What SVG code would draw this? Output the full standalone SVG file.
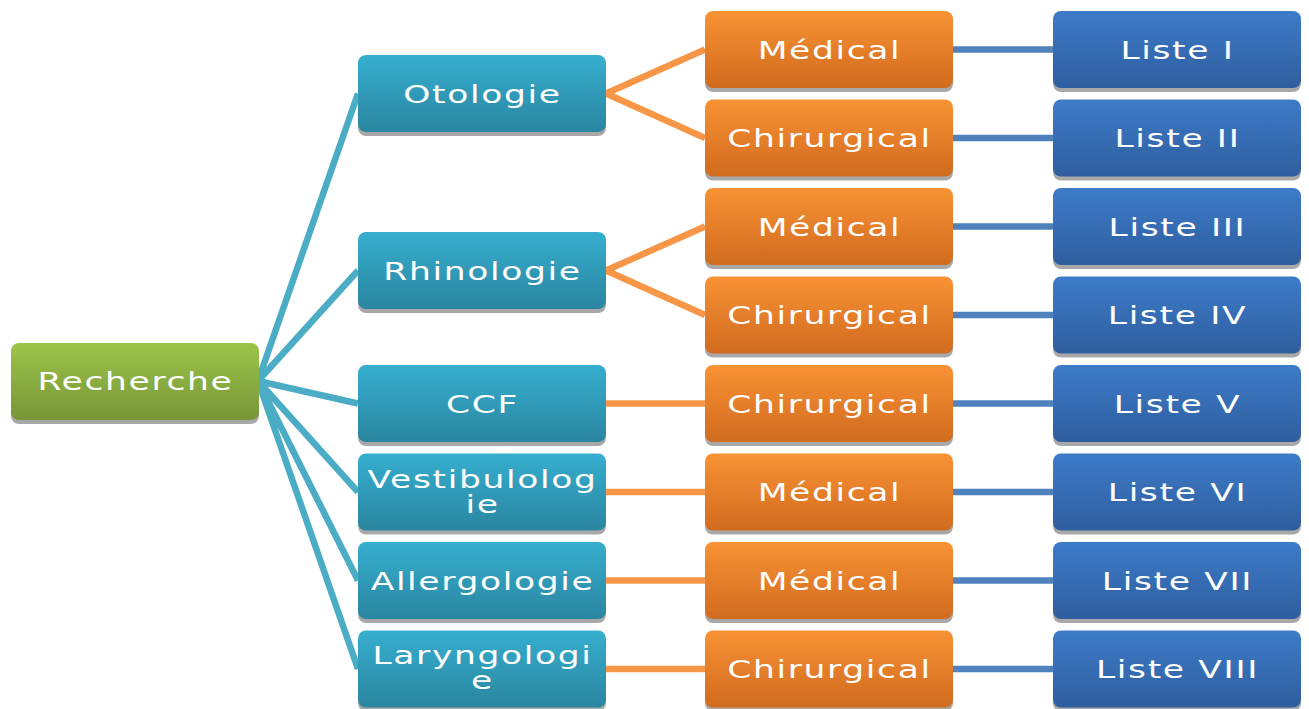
<svg xmlns="http://www.w3.org/2000/svg" width="1309" height="709" viewBox="0 0 1309 709">
<defs>
<linearGradient id="gGreen" x1="0" y1="0" x2="0" y2="1"><stop offset="0" stop-color="#9CC44A"/><stop offset="1" stop-color="#779637"/></linearGradient>
<linearGradient id="gTeal" x1="0" y1="0" x2="0" y2="1"><stop offset="0" stop-color="#36AECF"/><stop offset="1" stop-color="#2A86A0"/></linearGradient>
<linearGradient id="gOrange" x1="0" y1="0" x2="0" y2="1"><stop offset="0" stop-color="#F89234"/><stop offset="1" stop-color="#D16B1F"/></linearGradient>
<linearGradient id="gBlue" x1="0" y1="0" x2="0" y2="1"><stop offset="0" stop-color="#3D7BC9"/><stop offset="1" stop-color="#2F5E9E"/></linearGradient>
<style>
.sh{fill:#A8A8A8}
.t{font-family:"DejaVu Sans","Liberation Sans",sans-serif;font-size:25px;letter-spacing:1.2px;fill:#FFFFFF;text-anchor:middle}
.c1{stroke:#4BACC6;stroke-width:6.5;fill:none}
.c2{stroke:#F79646;stroke-width:6.5;fill:none}
.c3{stroke:#4F81BD;stroke-width:6.5;fill:none}
</style>
</defs>
<rect width="1309" height="709" fill="#FFFFFF"/>
<g id="connectors">
<path class="c1" d="M258,381 L358,93.5 M258,381 L358,270.5 M258,381 L358,403.5 M258,381 L358,492 M258,381 L358,580.5 M258,381 L358,669"/>
<path class="c2" d="M606,93.5 L705,49.5 M606,93.5 L705,138 M606,270.5 L705,226.5 M606,270.5 L705,315 M606,403.5 L705,403.5 M606,492 L705,492 M606,580.5 L705,580.5 M606,669 L705,669"/>
<path class="c3" d="M953,49.5 H1053 M953,138 H1053 M953,226.5 H1053 M953,315 H1053 M953,403.5 H1053 M953,492 H1053 M953,580.5 H1053 M953,669 H1053"/>
</g>
<g id="recherche"><rect class="sh" x="11" y="347" width="248" height="77" rx="8"/><rect x="11" y="343" width="248" height="77" rx="8" fill="url(#gGreen)"/><text class="t" transform="translate(135.5,389.5) scale(1.38,1)">Recherche</text></g>
<g id="otologie"><rect class="sh" x="358" y="59" width="248" height="77" rx="8"/><rect x="358" y="55" width="248" height="77" rx="8" fill="url(#gTeal)"/><text class="t" transform="translate(482.5,102.5) scale(1.38,1)">Otologie</text></g>
<g id="rhinologie"><rect class="sh" x="358" y="236" width="248" height="77" rx="8"/><rect x="358" y="232" width="248" height="77" rx="8" fill="url(#gTeal)"/><text class="t" transform="translate(482.5,279.5) scale(1.38,1)">Rhinologie</text></g>
<g id="ccf"><rect class="sh" x="358" y="369" width="248" height="77" rx="8"/><rect x="358" y="365" width="248" height="77" rx="8" fill="url(#gTeal)"/><text class="t" transform="translate(482.5,412.5) scale(1.38,1)">CCF</text></g>
<g id="vestibulologie"><rect class="sh" x="358" y="457.5" width="248" height="77" rx="8"/><rect x="358" y="453.5" width="248" height="77" rx="8" fill="url(#gTeal)"/><text class="t" transform="translate(482.5,488) scale(1.38,1)">Vestibulolog</text><text class="t" transform="translate(482.5,513) scale(1.38,1)">ie</text></g>
<g id="allergologie"><rect class="sh" x="358" y="546" width="248" height="77" rx="8"/><rect x="358" y="542" width="248" height="77" rx="8" fill="url(#gTeal)"/><text class="t" transform="translate(482.5,589.5) scale(1.38,1)">Allergologie</text></g>
<g id="laryngologie"><rect class="sh" x="358" y="634.5" width="248" height="77" rx="8"/><rect x="358" y="630.5" width="248" height="77" rx="8" fill="url(#gTeal)"/><text class="t" transform="translate(482.5,663.5) scale(1.38,1)">Laryngologi</text><text class="t" transform="translate(482.5,688.5) scale(1.38,1)">e</text></g>
<g id="o1"><rect class="sh" x="705" y="15" width="248" height="77" rx="8"/><rect x="705" y="11" width="248" height="77" rx="8" fill="url(#gOrange)"/><text class="t" transform="translate(829.5,58.5) scale(1.38,1)">Médical</text></g>
<g id="o2"><rect class="sh" x="705" y="103.5" width="248" height="77" rx="8"/><rect x="705" y="99.5" width="248" height="77" rx="8" fill="url(#gOrange)"/><text class="t" transform="translate(829.5,147) scale(1.38,1)">Chirurgical</text></g>
<g id="o3"><rect class="sh" x="705" y="192" width="248" height="77" rx="8"/><rect x="705" y="188" width="248" height="77" rx="8" fill="url(#gOrange)"/><text class="t" transform="translate(829.5,235.5) scale(1.38,1)">Médical</text></g>
<g id="o4"><rect class="sh" x="705" y="280.5" width="248" height="77" rx="8"/><rect x="705" y="276.5" width="248" height="77" rx="8" fill="url(#gOrange)"/><text class="t" transform="translate(829.5,324) scale(1.38,1)">Chirurgical</text></g>
<g id="o5"><rect class="sh" x="705" y="369" width="248" height="77" rx="8"/><rect x="705" y="365" width="248" height="77" rx="8" fill="url(#gOrange)"/><text class="t" transform="translate(829.5,412.5) scale(1.38,1)">Chirurgical</text></g>
<g id="o6"><rect class="sh" x="705" y="457.5" width="248" height="77" rx="8"/><rect x="705" y="453.5" width="248" height="77" rx="8" fill="url(#gOrange)"/><text class="t" transform="translate(829.5,501) scale(1.38,1)">Médical</text></g>
<g id="o7"><rect class="sh" x="705" y="546" width="248" height="77" rx="8"/><rect x="705" y="542" width="248" height="77" rx="8" fill="url(#gOrange)"/><text class="t" transform="translate(829.5,589.5) scale(1.38,1)">Médical</text></g>
<g id="o8"><rect class="sh" x="705" y="634.5" width="248" height="77" rx="8"/><rect x="705" y="630.5" width="248" height="77" rx="8" fill="url(#gOrange)"/><text class="t" transform="translate(829.5,678) scale(1.38,1)">Chirurgical</text></g>
<g id="l1"><rect class="sh" x="1053" y="15" width="248" height="77" rx="8"/><rect x="1053" y="11" width="248" height="77" rx="8" fill="url(#gBlue)"/><text class="t" transform="translate(1177.5,58.5) scale(1.38,1)">Liste I</text></g>
<g id="l2"><rect class="sh" x="1053" y="103.5" width="248" height="77" rx="8"/><rect x="1053" y="99.5" width="248" height="77" rx="8" fill="url(#gBlue)"/><text class="t" transform="translate(1177.5,147) scale(1.38,1)">Liste II</text></g>
<g id="l3"><rect class="sh" x="1053" y="192" width="248" height="77" rx="8"/><rect x="1053" y="188" width="248" height="77" rx="8" fill="url(#gBlue)"/><text class="t" transform="translate(1177.5,235.5) scale(1.38,1)">Liste III</text></g>
<g id="l4"><rect class="sh" x="1053" y="280.5" width="248" height="77" rx="8"/><rect x="1053" y="276.5" width="248" height="77" rx="8" fill="url(#gBlue)"/><text class="t" transform="translate(1177.5,324) scale(1.38,1)">Liste IV</text></g>
<g id="l5"><rect class="sh" x="1053" y="369" width="248" height="77" rx="8"/><rect x="1053" y="365" width="248" height="77" rx="8" fill="url(#gBlue)"/><text class="t" transform="translate(1177.5,412.5) scale(1.38,1)">Liste V</text></g>
<g id="l6"><rect class="sh" x="1053" y="457.5" width="248" height="77" rx="8"/><rect x="1053" y="453.5" width="248" height="77" rx="8" fill="url(#gBlue)"/><text class="t" transform="translate(1177.5,501) scale(1.38,1)">Liste VI</text></g>
<g id="l7"><rect class="sh" x="1053" y="546" width="248" height="77" rx="8"/><rect x="1053" y="542" width="248" height="77" rx="8" fill="url(#gBlue)"/><text class="t" transform="translate(1177.5,589.5) scale(1.38,1)">Liste VII</text></g>
<g id="l8"><rect class="sh" x="1053" y="634.5" width="248" height="77" rx="8"/><rect x="1053" y="630.5" width="248" height="77" rx="8" fill="url(#gBlue)"/><text class="t" transform="translate(1177.5,678) scale(1.38,1)">Liste VIII</text></g>
</svg>
